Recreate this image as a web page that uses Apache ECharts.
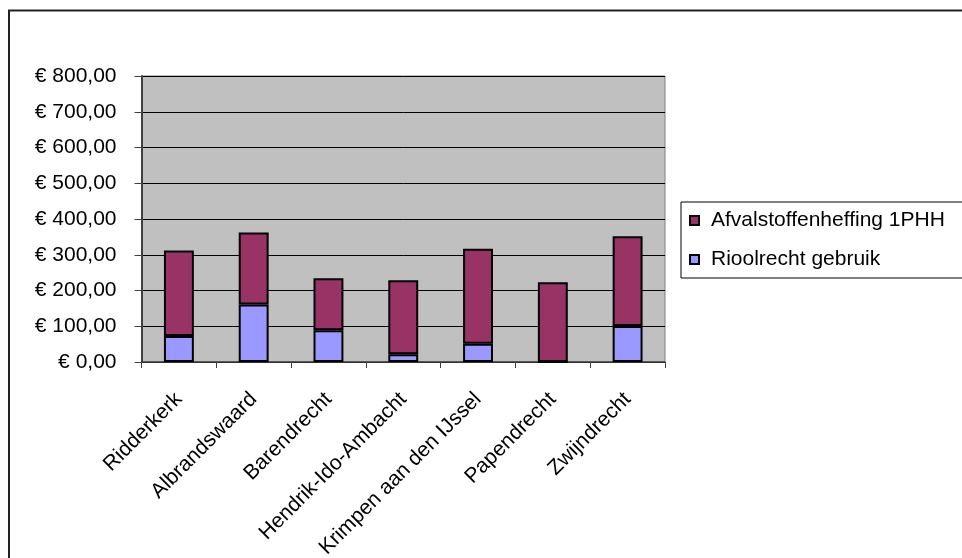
<!DOCTYPE html>
<html>
<head>
<meta charset="utf-8">
<script src="https://cdn.jsdelivr.net/npm/echarts@6/dist/echarts.min.js"></script>
<style>
html,body{margin:0;padding:0;background:#fff;}
#chart{width:962px;height:558px;}
</style>
</head>
<body>
<div id="chart"></div>
<script>
const categories = ['Ridderkerk', 'Albrandswaard', 'Barendrecht', 'Hendrik-Ido-Ambacht', 'Krimpen aan den IJssel', 'Papendrecht', 'Zwijndrecht'];
const rioolrecht = [73, 161, 89, 22, 51, 0, 101];
const afvalstoffen = [239, 201, 145, 207, 266, 223, 251];
const yTicks = [0, 100, 200, 300, 400, 500, 600, 700, 800];
const seriesNames = ['Afvalstoffenheffing 1PHH', 'Rioolrecht gebruik'];

const FONT = '"Liberation Sans", Arial, sans-serif';
const chart = echarts.init(document.getElementById('chart'), null, {renderer: 'canvas'});
chart.setOption({
  backgroundColor: '#ffffff',
  animation: false,
  graphic: [{
    type: 'rect',
    shape: {x: 9, y: 10.5, width: 1000, height: 600},
    style: {fill: 'none', stroke: '#222', lineWidth: 2},
    silent: true
  }],
  grid: {
    left: 141.5, top: 76, right: 297, bottom: 196,
    containLabel: false, outerBoundsMode: 'none',
    show: true, backgroundColor: '#C0C0C0', borderColor: '#808080', borderWidth: 1
  },
  legend: {
    orient: 'vertical',
    left: 681, top: 202,
    data: seriesNames.map(n => ({name: n, icon: 'rect'})),
    itemWidth: 9, itemHeight: 9, itemGap: 18,
    padding: [8, 40, 8, 8],
    borderColor: '#000', borderWidth: 1,
    backgroundColor: '#fff',
    textStyle: {fontFamily: FONT, fontSize: 21, color: '#000', lineHeight: 21, padding: [0, 0, 0, 7]}
  },
  xAxis: {
    type: 'category',
    data: categories,
    axisLine: {show: true, lineStyle: {color: '#404040', width: 1.5}},
    axisTick: {show: true, length: 6, lineStyle: {color: '#404040'}},
    axisLabel: {rotate: 45, margin: 34, fontFamily: FONT, fontSize: 21, color: '#000', interval: 0}
  },
  yAxis: {
    type: 'value',
    min: yTicks[0], max: yTicks[yTicks.length - 1], interval: 100,
    axisLine: {show: true, lineStyle: {color: '#404040', width: 2}},
    axisTick: {show: true, length: 7, lineStyle: {color: '#404040'}},
    splitLine: {show: true, lineStyle: {color: '#000', width: 1}},
    axisLabel: {
      margin: 25, fontFamily: FONT, fontSize: 21, color: '#000',
      formatter: v => '€ ' + v.toFixed(2).replace('.', ',')
    }
  },
  series: [
    {
      name: seriesNames[1], type: 'bar', stack: 'total', data: rioolrecht, barWidth: '40%',
      itemStyle: {color: '#9999FF', borderColor: '#000', borderWidth: 2}
    },
    {
      name: seriesNames[0], type: 'bar', stack: 'total', data: afvalstoffen, barWidth: '40%',
      itemStyle: {color: '#993366', borderColor: '#000', borderWidth: 2}
    }
  ]
});
</script>
</body>
</html>
